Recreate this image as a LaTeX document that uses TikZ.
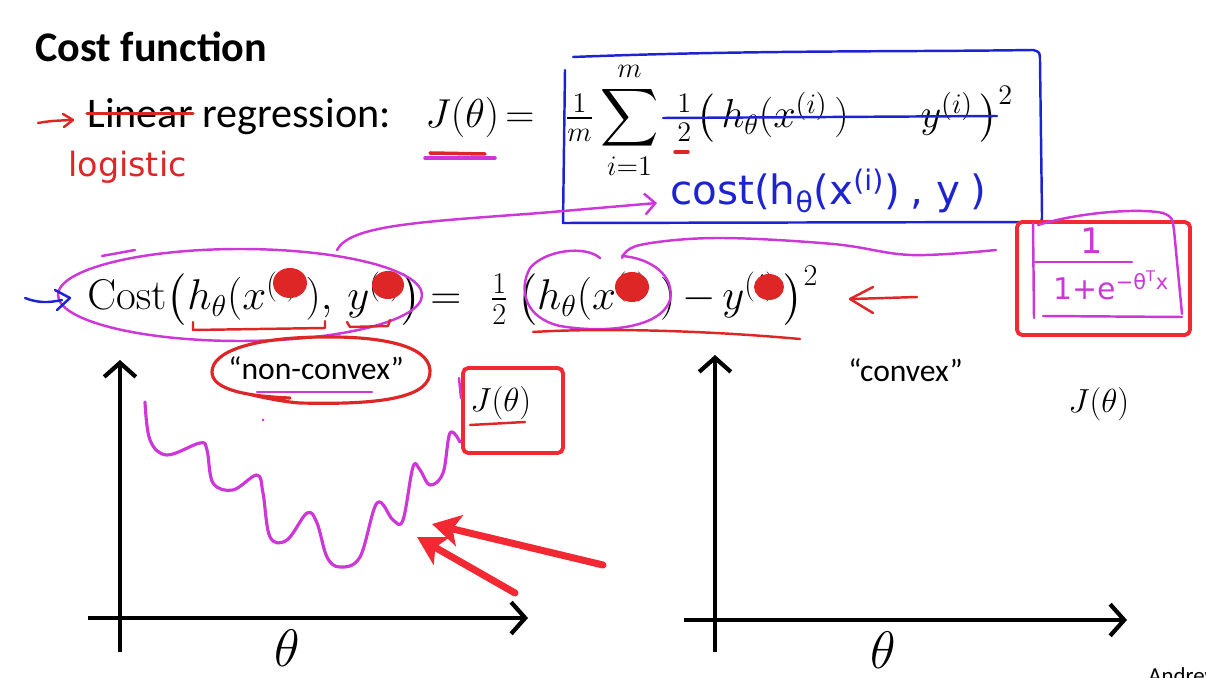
\RequirePackage{fix-cm}
\documentclass[tikz,border=0pt]{standalone}
\usepackage{amsmath,amssymb}
\usepackage[no-math]{fontspec}
\setmainfont{Carlito}
\newfontfamily\handfont{DejaVu Sans}
\usepackage{tikz}
\usetikzlibrary{arrows.meta,positioning,calc}
\definecolor{penred}{RGB}{222,38,38}
\definecolor{penmag}{RGB}{205,55,215}
\definecolor{penblue}{RGB}{30,35,210}
\definecolor{markred}{RGB}{242,40,50}
\tikzset{
  slide/.style={font=\fontsize{24}{28}\selectfont, inner sep=0pt, anchor=base west},
  eqn/.style={font=\fontsize{#1}{28}\selectfont, inner sep=0pt, anchor=base west},
  eqn/.default=24.5,
  plotlabel/.style={font=\fontsize{18}{22}\selectfont, inner sep=0pt, anchor=base west},
  hand/.style={font=\handfont\fontsize{#1}{#1}\selectfont, inner sep=0pt, anchor=base west},
  ink/.style={#1, line width=1.4pt, line cap=round, line join=round},
  axis/.style={line width=2.4pt, -{Straight Barb[length=8pt, width=18pt]}},
  markbox/.style={draw=markred, line width=2.2pt, rounded corners=3pt},
  bigarrow/.style={markred, line width=4pt, line cap=round, -{Stealth[length=16pt, width=18pt, inset=4pt]}},
  blob/.style={fill=penred},
}

\begin{document}
\begin{tikzpicture}[x=0.02cm, y=-0.02cm]
  \useasboundingbox (0,0) rectangle (1206,678);
  \clip (0,0) rectangle (1206,678);

  % slide text
  \node[slide, font=\fontsize{24}{28}\selectfont\bfseries] (title) at (35,62) {Cost function};
  \node[slide] (lin) at (87,128) {Linear};
  \node[slide, base right=5pt of lin] (reg) {regression:};

  % J(theta) definition
  \node[eqn=23] (jth) at (425,128) {$J(\theta)$};
  \node[eqn=23] (jeq) at (505,128) {$=$};
  \node[eqn=23] (jfrac) at (565,128) {$\tfrac{1}{m}$};
  \node[eqn=23] (jsum) at (600,128) {$\displaystyle\sum_{i=1}^{m}$};
  \node[eqn=23] (jhalf) at (675,128) {$\tfrac{1}{2}$};
  \node[eqn=23] (jsq) at (696,128)
    {$\bigl(\,h_\theta(x^{(i)}\,)\;-\;y^{(i)}\,\bigr)^{2}$};

  % Cost line
  \node[eqn] (c1) at (87,310) {$\mathrm{Cost}\bigl($};
  \node[eqn] (c2) at (187,310) {$h_\theta(x^{(i)}\,),$};
  \node[eqn] (c3) at (347,310) {$y^{(i)}\bigr)$};
  \node[eqn] (c4) at (430,310) {$=$};
  \node[eqn] (c5) at (490,310) {$\tfrac{1}{2}$};
  \node[eqn] (c6) at (517,310) {$\bigl(h_\theta(x^{(i)}\;)$};
  \node[eqn] (c7) at (682,310) {$-$};
  \node[eqn] (c8) at (722,310) {$y^{(i)}\,\bigr)^{2}$};

  \node[plotlabel] (nonconvex) at (228,380) {“non-convex”};
  \node[plotlabel] (convex) at (848,382) {“convex”};
  \node[eqn=19] (jleft) at (470,412) {$J(\theta)$};
  \node[eqn=19] (jright) at (1068,413) {$J(\theta)$};
  \node[font=\fontsize{30}{34}\selectfont, inner sep=0pt] (thleft) at (287,648) {$\theta$};
  \node[font=\fontsize{30}{34}\selectfont, inner sep=0pt] (thright) at (883,650) {$\theta$};
  \node[font=\fontsize{13}{15}\selectfont, anchor=north west, inner sep=0pt] (author) at (1148,667) {Andrew};

  % axes
  \draw[axis] (120,652) -- (120,360);
  \draw[axis] (88,618) -- (528,618);
  \draw[axis] (715,652) -- (715,355);
  \draw[axis] (684,620) -- (1127,620);

  % red pen, first lines
  \draw[ink=penred] (38,123) .. controls (50,121) .. (72,120);
  \draw[ink=penred] (63,114) -- (73,120) -- (64,127);
  \draw[ink=penred, line width=1.8pt] (lin.west) -- (lin.east);
  \node[hand=19, text=penred] (logi) at (68,177) {logistic};
  \draw[ink=penmag, line width=2pt] (425,158) -- (495,158);
  \draw[ink=penred, line width=2pt] (430,153) -- (485,154);

  % blue pen box
  \draw[ink=penblue] (573,57) .. controls (750,50) and (900,52) .. (1033,50)
    .. controls (1040,52) .. (1040,62) -- (1042,215) .. controls (1042,222) .. (1035,222)
    -- (563,223) -- (565,70);
  \draw[ink=penblue] (663,118) -- (997,116);
  \draw[ink=penred, line width=2pt] (675,152) -- (688,152);
  \node[hand=23, text=penblue] (costhand) at (670,205)
    {cost(h\textsubscript{θ}(x\textsuperscript{(i)})\hspace{6pt}, y\hspace{6pt})};
  \coordinate (arrtip) at (657,203);
  \draw[ink=penmag, -{Straight Barb[length=6pt, width=12pt]}] (337,250)
    .. controls (350,225) and (420,222) .. (540,213) -- (arrtip);

  % magenta loops on the cost line
  \draw[ink=penmag] (240,295) ellipse [x radius=182, y radius=46];
  \draw[ink=penmag] (102,256) -- (135,250);
  \draw[ink=penmag] (600,258) .. controls (585,245) and (545,250) .. (530,268)
    .. controls (518,290) and (525,318) .. (560,326)
    .. controls (600,333) and (660,330) .. (670,300)
    .. controls (675,275) and (650,258) .. (622,256);
  \draw[ink=penmag] plot[smooth, tension=0.6] coordinates
    {(622,258) (640,245) (717,238) (833,244) (911,255) (996,250)};

  % red scribbles over superscripts
  \foreach \bx/\by/\br in {290/283/16, 388/285/15, 632/287/16, 769/287/14}{
    \fill[blob] (\bx,\by) ellipse [x radius=\br+1, y radius=\br-1];
  }

  % red pen, cost line
  \draw[ink=penred] (193,322) -- (193,330) -- (325,328) -- (325,321);
  \draw[ink=penred] (347,322) -- (350,327) -- (388,326) -- (390,320);
  \draw[ink=penred] (533,332) .. controls (600,328) and (700,330) .. (800,339);
  \draw[ink=penred] (917,297) -- (852,299);
  \draw[ink=penred] (873,287) -- (850,299) -- (873,313);

  % blue pen arrow
  \draw[ink=penblue] (25,298) .. controls (38,303) and (48,303) .. (62,300);
  \draw[ink=penblue] (55,290) -- (70,298) -- (57,310);

  % sigmoid box
  \draw[markbox] (1017,222) rectangle (1190,335);
  \draw[ink=penmag] (1038,225) .. controls (1080,212) and (1140,208) .. (1163,213)
    .. controls (1172,217) .. (1174,230) -- (1182,314);
  \draw[ink=penmag] (1033,223) -- (1034,318);
  \draw[ink=penmag] (1043,316) -- (1182,317);
  \node[hand=20, text=penmag] (num) at (1080,254) {1};
  \draw[ink=penmag] (1035,262) -- (1132,262);
  \node[hand=17, text=penmag] (den) at (1053,300) {1+e\textsuperscript{−θ\textsuperscript{T}x}};

  % non-convex mark
  \draw[ink=penred, line width=1.8pt] (248,394) .. controls (265,398) and (285,402) .. (300,403)
    .. controls (380,405) and (432,398) .. (430,370)
    .. controls (428,345) and (380,336) .. (320,337)
    .. controls (250,338) and (212,352) .. (212,372)
    .. controls (212,388) and (240,396) .. (290,398);
  \draw[ink=penmag] (257,392) -- (372,392);
  \fill[penmag] (263,420) circle [radius=1.5];

  % J(theta) mark
  \draw[markbox] (463,368) rectangle (563,453);
  \draw[ink=penred] (470,425) -- (525,422);
  \draw[ink=penmag] (459,378) -- (461,398);

  % non-convex curve
  \draw[ink=penmag, line width=1.8pt] plot[smooth, tension=0.6] coordinates
    {(145,402) (150,440) (167,455) (200,443) (207,450) (213,483) (233,490)
     (257,475) (263,493) (270,537) (287,540) (307,513) (317,523) (327,557)
     (340,567) (360,557) (377,503) (393,520) (403,520) (413,467) (420,470)
     (430,485) (443,473) (450,433) (460,442)};

  % red arrows
  \draw[bigarrow] (603,565) -- (432,524);
  \draw[bigarrow] (515,593) -- (417,537);
\end{tikzpicture}
\end{document}
